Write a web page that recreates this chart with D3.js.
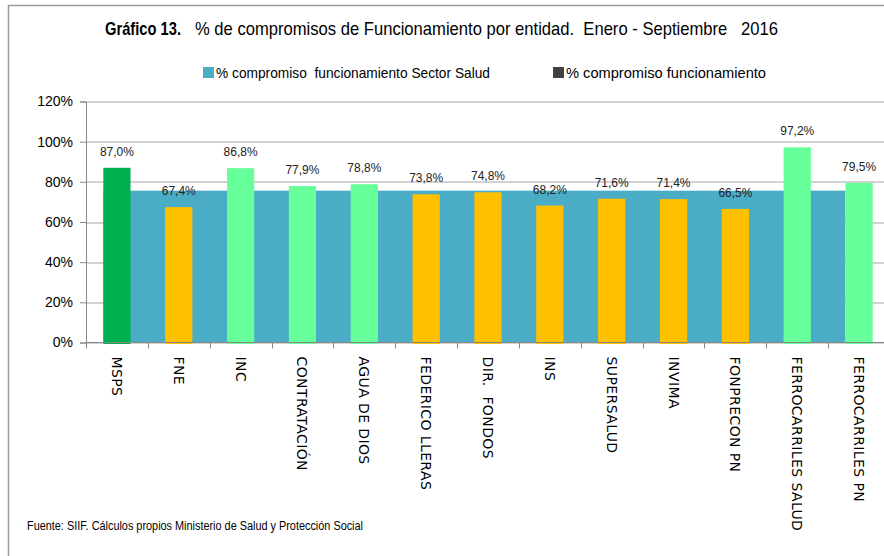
<!DOCTYPE html>
<html lang="es">
<head>
<meta charset="UTF-8">
<script src="https://cdn.jsdelivr.net/npm/d3@7"></script>
<style>
  body { margin: 0; background: #fff; }
  svg { display: block; }
</style>
</head>
<body>
<div id="chart"></div>
<script>
    // ------- datos -------
    var entidades = ["MSPS", "FNE", "INC", "CONTRATACIÓN", "AGUA DE DIOS", "FEDERICO LLERAS",
        "DIR.  FONDOS", "INS", "SUPERSALUD", "INVIMA", "FONPRECON PN", "FERROCARRILES SALUD",
        "FERROCARRILES PN"];
    var compromiso = [87.0, 67.4, 86.8, 77.9, 78.8, 73.8, 74.8, 68.2, 71.6, 71.4, 66.5, 97.2, 79.5];
    // grupo de color de cada barra: 0 = MSPS, 1 = por debajo del sector, 2 = por encima
    var grupo = [0, 1, 2, 2, 2, 1, 1, 1, 1, 1, 1, 2, 2];
    var sectorSalud = 75.6;
    var yTicks = [0, 20, 40, 60, 80, 100, 120];
    var leyenda = ["% compromiso  funcionamiento Sector Salud", "% compromiso funcionamiento"];

    var colores = ["#00B050", "#FFC000", "#66FF99"];
    var sans = "'Liberation Sans', Arial, sans-serif";

    var W = 884, H = 556;
    var margin = { top: 101.5, left: 86, bottom: H - 342.5 },
        width = 890 - margin.left,
        height = 342.5 - margin.top;

    var svg = d3.select("#chart").append("svg")
        .attr("width", W)
        .attr("height", H);

    // borde del gráfico
    svg.append("rect")
        .attr("x", 8.5).attr("y", 5.5)
        .attr("width", 1000).attr("height", 1000)
        .attr("fill", "none")
        .attr("stroke", "#9a9a9a")
        .attr("stroke-width", 1.5);

    // titulo (Calibri condensado en el original)
    svg.append("text")
        .attr("x", 105).attr("y", 35)
        .attr("font-family", sans)
        .attr("font-size", "18.5px")
        .attr("font-weight", "bold")
        .attr("textLength", 76)
        .attr("lengthAdjust", "spacingAndGlyphs")
        .text("Gráfico 13.");
    svg.append("text")
        .attr("x", 195).attr("y", 35)
        .attr("font-family", sans)
        .attr("font-size", "18.5px")
        .attr("textLength", 583)
        .attr("lengthAdjust", "spacingAndGlyphs")
        .attr("xml:space", "preserve")
        .text("% de compromisos de Funcionamiento por entidad.  Enero - Septiembre   2016");

    // leyenda
    var legX = [203, 553];
    var legLen = [274, 200];
    var legColor = ["#4BACC6", "#404040"];
    var leg = svg.selectAll(".leg").data(leyenda).enter().append("g")
        .attr("transform", function (d, i) { return "translate(" + legX[i] + ",67)"; });
    leg.append("rect").attr("width", 11).attr("height", 11)
        .attr("fill", function (d, i) { return legColor[i]; });
    leg.append("text")
        .attr("x", 13).attr("y", 11)
        .attr("font-family", sans)
        .attr("font-size", "15px")
        .attr("textLength", function (d, i) { return legLen[i]; })
        .attr("lengthAdjust", "spacingAndGlyphs")
        .attr("xml:space", "preserve")
        .text(function (d) { return d; });

    var g = svg.append("g")
        .attr("transform", "translate(" + margin.left + "," + margin.top + ")");

    var x = d3.scaleBand()
        .domain(entidades)
        .range([0, width])
        .paddingInner(0.56)
        .paddingOuter(0.28);
    var y = d3.scaleLinear()
        .domain([0, 120])
        .range([height, 0]);

    // lineas de división
    g.selectAll(".grid").data(yTicks).enter().append("line")
        .attr("x1", 0).attr("x2", W)
        .attr("y1", function (d) { return Math.round(y(d)) + 0.5; })
        .attr("y2", function (d) { return Math.round(y(d)) + 0.5; })
        .attr("stroke", "#a6a6a6")
        .attr("stroke-width", 1.2);

    // eje Y
    var yAxis = g.append("g")
        .call(d3.axisLeft(y).tickValues(yTicks).tickSize(6).tickPadding(7)
            .tickFormat(function (d) { return d + "%"; }));
    yAxis.select(".domain").attr("stroke", "#888");
    yAxis.selectAll(".tick line").attr("stroke", "#888");
    yAxis.selectAll("text")
        .attr("font-family", sans)
        .attr("font-size", "14px")
        .attr("fill", "#000");

    // serie del sector salud
    g.append("rect")
        .attr("x", x(entidades[0]))
        .attr("width", x(entidades[entidades.length - 1]) - x(entidades[0]))
        .attr("y", y(sectorSalud))
        .attr("height", height - y(sectorSalud))
        .attr("fill", "#4BACC6");

    // barras por entidad
    g.selectAll(".bar").data(compromiso).enter().append("rect")
        .attr("x", function (d, i) { return x(entidades[i]); })
        .attr("width", x.bandwidth())
        .attr("y", function (d) { return y(d); })
        .attr("height", function (d) { return height - y(d) + 1.5; })
        .attr("fill", function (d, i) { return colores[grupo[i]]; });

    // etiquetas de valor
    g.selectAll(".val").data(compromiso).enter().append("text")
        .attr("x", function (d, i) { return x(entidades[i]) + x.bandwidth() / 2; })
        .attr("y", function (d) { return y(d) - 12; })
        .attr("text-anchor", "middle")
        .attr("font-family", sans)
        .attr("font-size", "13.5px")
        .attr("textLength", 34)
        .attr("lengthAdjust", "spacingAndGlyphs")
        .attr("fill", "#222")
        .text(function (d) { return d.toFixed(1).replace(".", ",") + "%"; });

    // eje X
    g.append("line")
        .attr("x1", 0).attr("x2", W)
        .attr("y1", height).attr("y2", height)
        .attr("stroke", "#888").attr("stroke-width", 1.2);
    var step = x.step();
    var bordes = entidades.map(function (d) { return x(d) + x.bandwidth() / 2 - step / 2; });
    g.selectAll(".xtick").data(bordes).enter().append("line")
        .attr("x1", function (d) { return Math.round(d) + 0.5; })
        .attr("x2", function (d) { return Math.round(d) + 0.5; })
        .attr("y1", height).attr("y2", height + 6)
        .attr("stroke", "#888");

    g.selectAll(".cat").data(entidades).enter().append("text")
        .attr("transform", function (d) {
            return "translate(" + (x(d) + x.bandwidth() / 2 - 5) + "," + (height + 14) + ") rotate(90)";
        })
        .attr("font-family", "'DejaVu Sans', Verdana, sans-serif")
        .attr("font-size", "14px")
        .attr("letter-spacing", "0.4px")
        .attr("xml:space", "preserve")
        .attr("fill", "#000")
        .text(function (d) { return d; });

    // fuente
    svg.append("text")
        .attr("x", 27).attr("y", 530)
        .attr("font-family", sans)
        .attr("font-size", "12.5px")
        .attr("textLength", 336)
        .attr("lengthAdjust", "spacingAndGlyphs")
        .text("Fuente: SIIF. Cálculos propios Ministerio de Salud y Protección Social");
</script>
</body>
</html>
